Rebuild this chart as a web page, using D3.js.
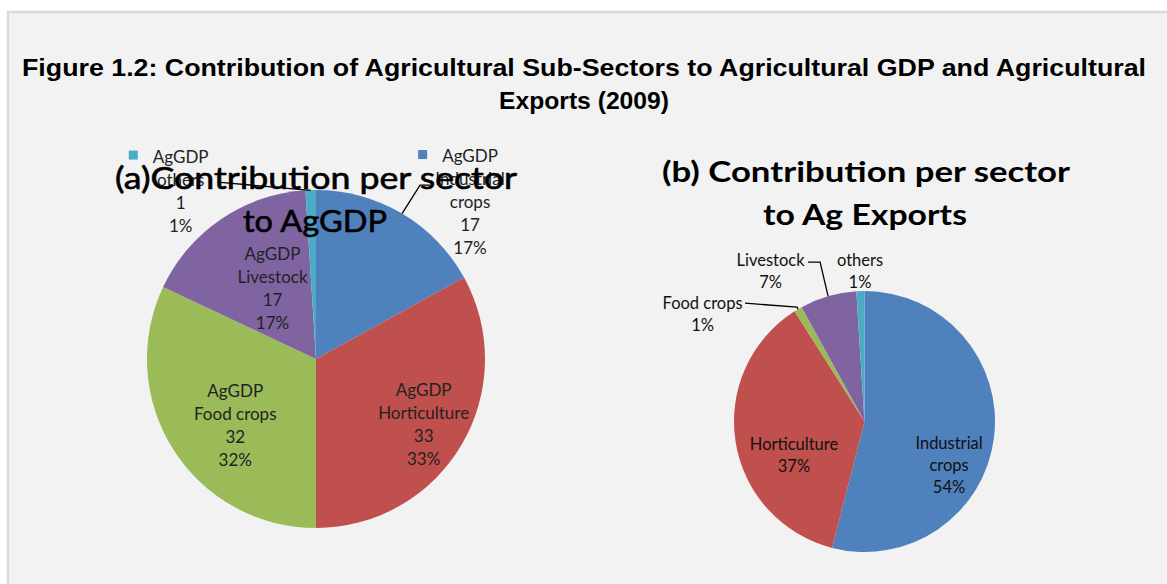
<!DOCTYPE html>
<html>
<head>
<meta charset="utf-8">
<script src="https://cdn.jsdelivr.net/npm/d3@7"></script>
<style>
  html, body { margin: 0; padding: 0; background: #ffffff; }
  svg { display: block; }
</style>
</head>
<body>
<svg id="chart" width="1167" height="584"></svg>
<script>
// Sub-sectors in drawing order (clockwise from 12 o'clock)
const sectors = ["Industrial crops", "Horticulture", "Food crops", "Livestock", "others"];
// (a) contribution to agricultural GDP, 2009
const agGdpValues = [17, 33, 32, 17, 1];
// (b) share of agricultural exports, 2009 (%)
const exportShares = [54, 37, 1, 7, 1];
const sectorColors = ["#4f81bd", "#c0504d", "#9bbb59", "#8064a2", "#4bacc6"];

const figureTitle = ["Figure 1.2: Contribution of Agricultural Sub-Sectors to Agricultural GDP and Agricultural",
                     "Exports (2009)"];
const titleA = ["(a)Contribution per sector", "to AgGDP"];
const titleB = ["(b) Contribution per sector", "to Ag Exports"];

const W = 1167, H = 584;
const svg = d3.select("#chart");

// page frame
svg.append("rect").attr("width", W).attr("height", H).attr("fill", "#ffffff");
svg.append("rect")
  .attr("x", 8).attr("y", 12).attr("width", W + 10).attr("height", H + 10)
  .attr("fill", "#f2f2f2").attr("stroke", "#d9d9d9").attr("stroke-width", 2.5);

// figure caption
const cap = svg.append("g")
  .attr("font-family", "'Liberation Sans', Arial, sans-serif")
  .attr("font-weight", "bold").attr("font-size", 24).attr("fill", "#000")
  .attr("text-anchor", "middle");
cap.append("text").attr("x", 584).attr("y", 76).text(figureTitle[0])
  .attr("textLength", 1124).attr("lengthAdjust", "spacingAndGlyphs");
cap.append("text").attr("x", 584).attr("y", 109).text(figureTitle[1])
  .attr("textLength", 170).attr("lengthAdjust", "spacingAndGlyphs");

const pieGen = d3.pie().sort(null).value(d => d.value).startAngle(0).endAngle(2 * Math.PI);

function polar(r, a) { return [r * Math.sin(a), -r * Math.cos(a)]; }

function drawPie(cfg) {
  const data = sectors.map((s, i) => ({ name: s, value: cfg.values[i], color: sectorColors[i] }));
  const total = d3.sum(data, d => d.value);
  const arcs = pieGen(data);
  const g = svg.append("g").attr("transform", `translate(${cfg.cx},${cfg.cy})`);
  const arc = d3.arc().innerRadius(0).outerRadius(cfg.r);

  g.selectAll("path.slice").data(arcs).join("path")
    .attr("class", "slice")
    .attr("d", arc)
    .attr("fill", d => d.data.color)
    .attr("stroke", "none");

  const labels = svg.append("g")
    .attr("font-family", "Lato, 'Open Sans', sans-serif")
    .attr("font-size", cfg.labelSize).attr("fill", cfg.labelColor)
    .attr("text-anchor", "middle");
  const leaders = [];

  arcs.forEach(a => {
    const lay = cfg.layout[a.data.name];
    const mid = (a.startAngle + a.endAngle) / 2;
    const pct = Math.round(a.data.value / total * 100) + "%";
    const lines = cfg.lines(a.data, pct);
    let cx, cy;
    if (lay.k !== undefined) {
      const p = polar(cfg.r * lay.k, mid);
      cx = cfg.cx + p[0] + lay.dx; cy = cfg.cy + p[1] + lay.dy;
    } else {
      const e = polar(cfg.r, mid);
      const ex = cfg.cx + e[0], ey = cfg.cy + e[1];
      cx = ex + lay.dx; cy = ey + lay.dy;
      if (lay.leader) leaders.push([[ex, ey]].concat(lay.leader.map(q => [ex + q[0], ey + q[1]])));
    }
    const top = cy - (lines.length - 1) * cfg.lineH / 2;
    const t = labels.append("text").attr("x", cx).attr("y", top).attr("dominant-baseline", "central");
    lines.forEach((ln, i) => {
      t.append("tspan").attr("x", cx).attr("y", top + i * cfg.lineH).text(ln);
    });
    if (cfg.key) {
      const w = t.select("tspan").node().getComputedTextLength();
      labels.append("rect")
        .attr("x", cx - w / 2 - 24).attr("y", top - 5)
        .attr("width", 9).attr("height", 9)
        .attr("fill", a.data.color);
    }
  });
  return leaders;
}

function drawTitle(lines, cfg) {
  const g = svg.append("g")
    .attr("font-family", "Lato, 'Open Sans', sans-serif")
    .attr("font-weight", cfg.weight).attr("font-size", cfg.size)
    .attr("fill", "#000").attr("stroke", "#000").attr("stroke-width", cfg.stroke)
    .attr("text-anchor", "middle");
  lines.forEach((ln, i) => {
    g.append("text").attr("x", cfg.x[i]).attr("y", cfg.y[i]).text(ln)
      .attr("textLength", cfg.w[i]).attr("lengthAdjust", "spacingAndGlyphs");
  });
}

function drawLeaders(list) {
  svg.append("g").selectAll("path").data(list).join("path")
    .attr("d", d => d3.line()(d))
    .attr("fill", "none").attr("stroke", "#000").attr("stroke-width", 1.3);
}

// (a) AgGDP pie
const leadersA = drawPie({
  values: agGdpValues, cx: 316, cy: 359, r: 169,
  labelSize: 17, labelColor: "#222", lineH: 23, key: true,
  lines: (d, pct) => {
    const name = d.name === "Industrial crops" ? ["Industrial", "crops"] : [d.name];
    return ["AgGDP"].concat(name, [String(d.value), pct]);
  },
  layout: {
    "Industrial crops": { dx: 68, dy: -12.5, leader: [[18, -28.5], [28, -28.5]] },
    "Horticulture": { k: 0.74, dx: 0, dy: 1 },
    "Food crops": { k: 0.615, dx: 7, dy: 10 },
    "Livestock": { k: 0.5, dx: 4, dy: -2 },
    "others": { dx: -130, dy: 0, leader: [[-3.7, 0], [-93, -8]] }
  }
});
drawTitle(titleA, { weight: "normal", size: 30, stroke: 0.6, x: [316, 315], y: [189, 232], w: [402, 144] });
drawLeaders(leadersA);

// (b) exports pie
const leadersB = drawPie({
  values: exportShares, cx: 864.5, cy: 421.5, r: 130.5,
  labelSize: 16.5, labelColor: "#111", lineH: 22, key: false,
  lines: (d, pct) => {
    const name = d.name === "Industrial crops" ? ["Industrial", "crops"] : [d.name];
    return name.concat([pct]);
  },
  layout: {
    "Industrial crops": { k: 0.684, dx: -4, dy: 32 },
    "Horticulture": { k: 0.575, dx: 3.6, dy: 22 },
    "Food crops": { dx: -95.5, dy: 4.5, leader: [[-1, -2], [-53, -6]] },
    "Livestock": { dx: -57.5, dy: -25, leader: [[-8, -34], [-20, -34]] },
    "others": { dx: -0.4, dy: -20 }
  }
});
drawTitle(titleB, { weight: "bold", size: 29, stroke: 0, x: [866, 865], y: [182, 225], w: [408, 204] });
drawLeaders(leadersB);
</script>
</body>
</html>
